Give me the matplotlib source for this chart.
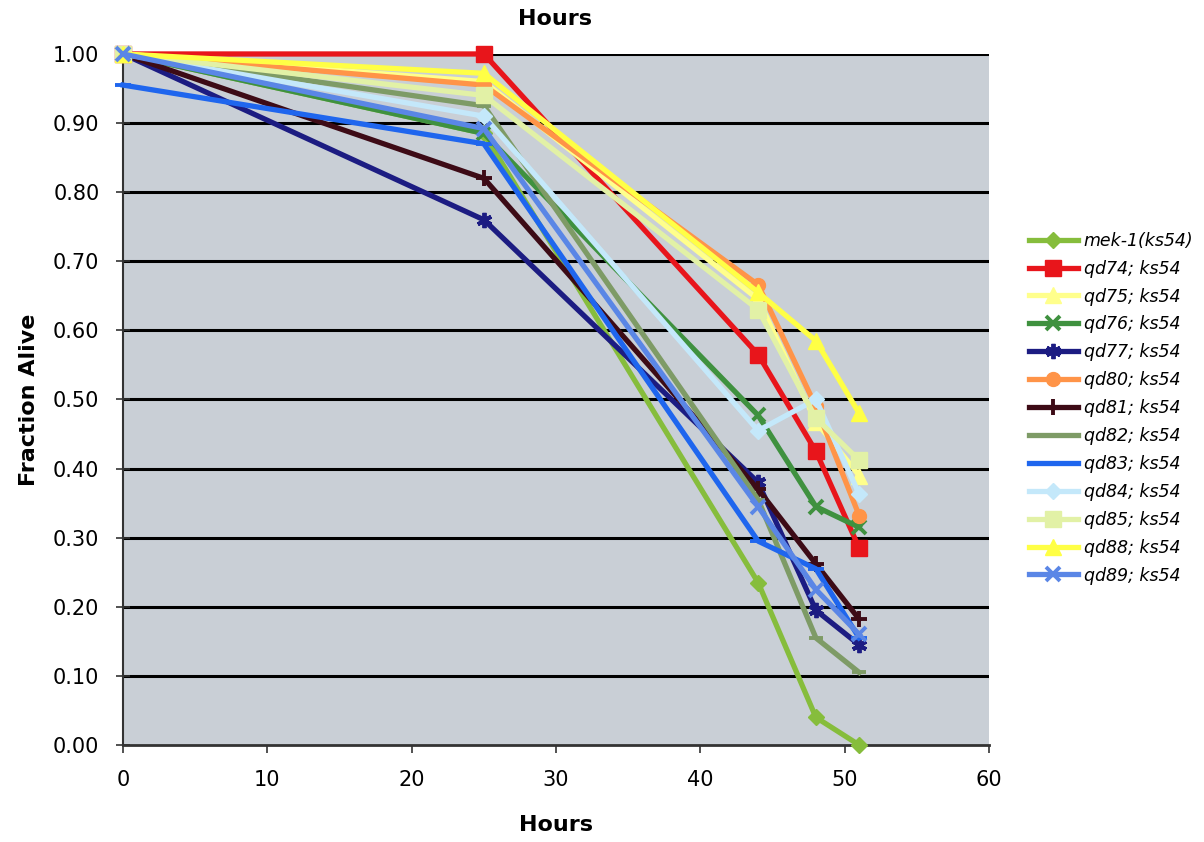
import matplotlib
matplotlib.use("Agg")
import matplotlib.pyplot as plt
from matplotlib.ticker import FormatStrFormatter

hours = [0, 25, 44, 48, 51]
labels = ["mek-1(ks54)", "qd74; ks54", "qd75; ks54", "qd76; ks54", "qd77; ks54",
          "qd80; ks54", "qd81; ks54", "qd82; ks54", "qd83; ks54", "qd84; ks54",
          "qd85; ks54", "qd88; ks54", "qd89; ks54"]
mek1 = [1.00, 0.885, 0.235, 0.04, 0.00]
qd74 = [1.00, 1.00, 0.565, 0.425, 0.285]
qd75 = [1.00, 0.96, 0.645, 0.468, 0.39]
qd76 = [1.00, 0.885, 0.477, 0.345, 0.315]
qd77 = [1.00, 0.76, 0.38, 0.195, 0.145]
qd80 = [1.00, 0.955, 0.666, 0.49, 0.332]
qd81 = [1.00, 0.82, 0.37, 0.262, 0.182]
qd82 = [1.00, 0.925, 0.355, 0.155, 0.105]
qd83 = [0.955, 0.87, 0.295, 0.255, 0.155]
qd84 = [1.00, 0.91, 0.455, 0.50, 0.363]
qd85 = [1.00, 0.94, 0.63, 0.473, 0.412]
qd88 = [1.00, 0.972, 0.655, 0.585, 0.48]
qd89 = [1.00, 0.892, 0.345, 0.225, 0.16]
series = [mek1, qd74, qd75, qd76, qd77, qd80, qd81, qd82, qd83, qd84, qd85, qd88, qd89]

colors = ["#86bd3c", "#e8151b", "#ffff8c", "#3f913f", "#1c1c82", "#ff9448",
          "#3d0b16", "#7e9b66", "#1f66ee", "#c4e8fa", "#e2f1a6", "#ffff45", "#5a86e6"]
markers = ["D", "s", "^", "x", (6, 2, 0), "o", "+", "_", "_", "D", "s", "^", "x"]
msizes = [8, 11, 11, 10, 11, 10, 12, 10, 12, 8, 11, 11, 10]

plt.rcParams['font.family'] = ['DejaVu Sans']
fig = plt.figure(figsize=(12.04, 8.42), dpi=100)
ax = fig.add_axes([0.1022, 0.1152, 0.7193, 0.8207])
ax.set_facecolor("#c9cfd6")

for vals, lab, c, m, ms in zip(series, labels, colors, markers, msizes):
    mew = 2.8 if m in ("x", "+", "_", (6, 2, 0)) else 1
    ax.plot(hours, vals, color=c, lw=3.8, marker=m, ms=ms, mec=c, mfc=c,
            mew=mew, label=lab, zorder=3, clip_on=False)

ax.set_xlim(0, 60)
ax.set_ylim(0, 1.0)
ax.set_xticks(range(0, 61, 10))
ax.set_yticks([i / 10 for i in range(11)])
ax.yaxis.set_major_formatter(FormatStrFormatter('%.2f'))
for y in [i / 10 for i in range(1, 11)]:
    ax.axhline(y, color="black", lw=2.2, zorder=1)
for s in ["top", "right"]:
    ax.spines[s].set_visible(False)
ax.spines["left"].set_color("#333333")
ax.spines["bottom"].set_color("#333333")
ax.spines["left"].set_linewidth(1.5)
ax.spines["bottom"].set_linewidth(2)
ax.tick_params(axis="both", labelsize=15, length=6, width=1.2, color="#333333")
ax.tick_params(axis="y", direction="inout", length=10, pad=12)
ax.tick_params(axis="x", pad=12)

ax.set_xlabel("Hours", fontsize=16, fontweight="bold", labelpad=18)
ax.set_ylabel("Fraction Alive", fontsize=16, fontweight="bold", labelpad=10)
fig.text(0.461, 0.978, "Hours", fontsize=16, fontweight="bold", ha="center", va="center")

leg = ax.legend(loc="upper left", bbox_to_anchor=(0.849, 0.733), bbox_transform=fig.transFigure,
                frameon=False, prop={"style": "italic", "size": 12.5}, handlelength=2.8,
                labelspacing=0.57, handletextpad=0.35, borderaxespad=0)

fig.savefig("out.png", dpi=100, facecolor="white")
